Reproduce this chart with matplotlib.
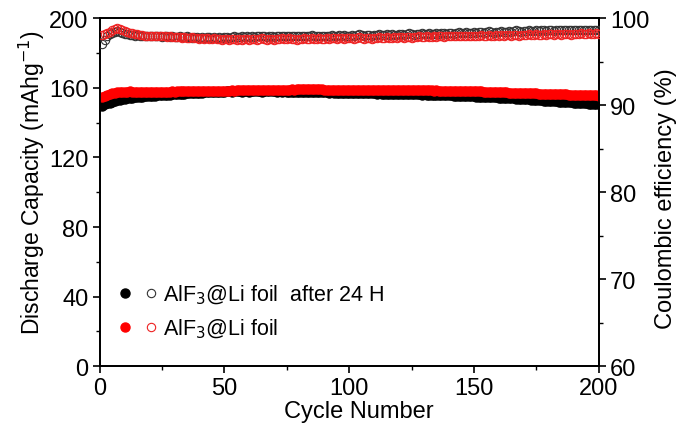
import numpy as np
import matplotlib.pyplot as plt
from matplotlib.legend_handler import HandlerTuple

plt.rcParams['font.family'] = ['Liberation Sans', 'DejaVu Sans']

cycles = np.arange(1, 201)

# discharge capacity (mAh/g), AlF3@Li foil after 24 H
cap_24h = [
    149.8, 150.5, 151.0, 151.4, 151.9, 152.3, 152.8, 153.2, 153.5, 153.8,
    154.0, 154.2, 154.3, 154.5, 154.6, 154.8, 154.9, 155.1, 155.2, 155.3,
    155.4, 155.5, 155.6, 155.7, 155.8, 155.9, 156.0, 156.1, 156.2, 156.3,
    156.4, 156.5, 156.6, 156.7, 156.8, 156.9, 157.0, 157.1, 157.1, 157.2,
    157.3, 157.4, 157.4, 157.5, 157.6, 157.6, 157.7, 157.7, 157.8, 157.8,
    157.9, 157.9, 157.8, 157.9, 158.0, 157.9, 157.8, 157.9, 157.9, 157.8,
    157.9, 158.0, 157.9, 157.9, 157.8, 157.9, 158.0, 158.0, 157.9, 157.9,
    157.8, 157.9, 157.8, 157.9, 157.8, 157.8, 157.7, 157.8, 157.7, 157.7,
    157.6, 157.7, 157.6, 157.6, 157.5, 157.6, 157.5, 157.5, 157.4, 157.5,
    157.4, 157.3, 157.4, 157.3, 157.3, 157.2, 157.2, 157.1, 157.2, 157.1,
    157.0, 157.1, 157.0, 156.9, 157.0, 156.9, 156.8, 156.9, 156.8, 156.8,
    156.7, 156.8, 156.7, 156.6, 156.7, 156.6, 156.5, 156.6, 156.5, 156.4,
    156.5, 156.4, 156.3, 156.4, 156.3, 156.2, 156.3, 156.2, 156.1, 156.2,
    156.1, 156.0, 156.0, 155.9, 155.9, 155.8, 155.8, 155.7, 155.7, 155.6,
    155.6, 155.5, 155.5, 155.4, 155.4, 155.3, 155.3, 155.2, 155.1, 155.1,
    155.0, 154.9, 154.9, 154.8, 154.7, 154.7, 154.6, 154.5, 154.5, 154.4,
    154.3, 154.2, 154.2, 154.1, 154.0, 153.9, 153.8, 153.7, 153.6, 153.5,
    153.4, 153.3, 153.2, 153.1, 153.0, 152.9, 152.8, 152.7, 152.6, 152.5,
    152.4, 152.3, 152.2, 152.1, 152.0, 151.9, 151.8, 151.7, 151.6, 151.5,
    151.4, 151.3, 151.2, 151.1, 151.0, 150.9, 150.8, 150.7, 150.6, 150.5,
]

# discharge capacity (mAh/g), fresh AlF3@Li foil
cap_fresh = [
    155.0, 155.4, 156.0, 156.5, 156.9, 157.2, 157.4, 157.6, 157.7, 157.8,
    157.8, 157.9, 157.8, 157.8, 157.7, 157.8, 157.7, 157.8, 157.7, 157.7,
    157.8, 157.7, 157.7, 157.8, 157.8, 157.7, 157.8, 157.8, 157.9, 157.8,
    157.9, 157.9, 158.0, 157.9, 158.0, 158.0, 158.1, 158.0, 158.1, 158.1,
    158.2, 158.1, 158.2, 158.2, 158.3, 158.2, 158.3, 158.3, 158.4, 158.3,
    158.4, 158.4, 158.5, 158.4, 158.5, 158.5, 158.6, 158.5, 158.6, 158.6,
    158.7, 158.6, 158.7, 158.7, 158.8, 158.7, 158.8, 158.8, 158.9, 158.8,
    158.9, 158.9, 159.0, 158.9, 159.0, 159.0, 159.1, 159.0, 159.1, 159.1,
    159.1, 159.2, 159.1, 159.2, 159.2, 159.1, 159.2, 159.1, 159.1, 159.0,
    159.0, 158.9, 159.0, 158.9, 158.9, 158.8, 158.9, 158.8, 158.8, 158.7,
    158.8, 158.7, 158.7, 158.8, 158.7, 158.7, 158.8, 158.7, 158.8, 158.7,
    158.8, 158.8, 158.9, 158.8, 158.8, 158.7, 158.8, 158.7, 158.7, 158.6,
    158.7, 158.6, 158.6, 158.7, 158.6, 158.6, 158.7, 158.6, 158.6, 158.5,
    158.6, 158.5, 158.5, 158.4, 158.5, 158.4, 158.4, 158.3, 158.4, 158.3,
    158.3, 158.2, 158.3, 158.2, 158.2, 158.1, 158.1, 158.0, 158.1, 158.0,
    158.0, 157.9, 157.9, 157.8, 157.8, 157.7, 157.7, 157.6, 157.6, 157.5,
    157.5, 157.4, 157.4, 157.3, 157.3, 157.2, 157.2, 157.1, 157.1, 157.0,
    157.0, 156.9, 156.9, 156.8, 156.8, 156.7, 156.7, 156.6, 156.6, 156.5,
    156.5, 156.4, 156.4, 156.3, 156.3, 156.2, 156.2, 156.1, 156.1, 156.0,
    156.0, 155.9, 155.9, 155.8, 155.8, 155.7, 155.7, 155.6, 155.6, 155.5,
]

# coulombic efficiency (%), after 24 H
ce_24h = [
    97.0, 97.5, 97.9, 98.2, 98.3, 98.4, 98.5, 98.4, 98.3, 98.2,
    98.2, 98.1, 98.1, 98.0, 98.1, 98.0, 98.0, 97.9, 98.0, 97.9,
    97.9, 98.0, 97.9, 97.9, 97.8, 97.9, 97.9, 97.8, 97.9, 97.8,
    97.8, 97.9, 97.8, 97.8, 97.9, 97.8, 97.7, 97.8, 97.8, 97.7,
    97.8, 97.7, 97.8, 97.8, 97.7, 97.8, 97.7, 97.8, 97.7, 97.8,
    97.8, 97.7, 97.8, 97.9, 97.8, 97.8, 97.9, 97.8, 97.9, 97.8,
    97.9, 97.8, 97.9, 97.9, 98.0, 97.9, 97.8, 97.9, 97.9, 97.8,
    97.9, 97.9, 98.0, 97.9, 97.9, 98.0, 97.9, 98.0, 97.9, 97.9,
    98.0, 97.9, 98.0, 98.0, 98.1, 98.0, 97.9, 98.0, 98.0, 97.9,
    98.0, 98.0, 98.1, 98.0, 98.0, 98.1, 98.0, 98.1, 98.0, 98.0,
    98.1, 98.0, 98.1, 98.2, 98.1, 98.0, 98.1, 98.1, 98.0, 98.1,
    98.1, 98.2, 98.1, 98.1, 98.2, 98.1, 98.2, 98.1, 98.1, 98.2,
    98.2, 98.1, 98.2, 98.3, 98.2, 98.1, 98.2, 98.2, 98.3, 98.2,
    98.2, 98.3, 98.2, 98.2, 98.3, 98.2, 98.3, 98.3, 98.2, 98.3,
    98.3, 98.2, 98.3, 98.4, 98.3, 98.3, 98.4, 98.3, 98.3, 98.4,
    98.3, 98.4, 98.4, 98.3, 98.4, 98.5, 98.4, 98.3, 98.4, 98.4,
    98.5, 98.4, 98.4, 98.5, 98.4, 98.5, 98.6, 98.5, 98.4, 98.5,
    98.5, 98.6, 98.5, 98.5, 98.6, 98.5, 98.6, 98.6, 98.5, 98.6,
    98.6, 98.5, 98.6, 98.6, 98.7, 98.6, 98.6, 98.7, 98.6, 98.6,
    98.7, 98.6, 98.7, 98.7, 98.6, 98.7, 98.7, 98.6, 98.7, 98.7,
]

# coulombic efficiency (%), fresh
ce_fresh = [
    98.1, 98.2, 98.3, 98.4, 98.6, 98.8, 98.9, 98.8, 98.6, 98.5,
    98.4, 98.3, 98.3, 98.2, 98.2, 98.1, 98.1, 98.0, 98.0, 98.0,
    98.0, 97.9, 98.0, 97.9, 97.9, 97.9, 97.8, 97.9, 97.8, 97.8,
    97.8, 97.8, 97.7, 97.8, 97.7, 97.7, 97.8, 97.7, 97.7, 97.6,
    97.7, 97.6, 97.7, 97.6, 97.6, 97.7, 97.6, 97.6, 97.5, 97.6,
    97.6, 97.5, 97.6, 97.6, 97.5, 97.6, 97.5, 97.6, 97.6, 97.5,
    97.6, 97.6, 97.5, 97.6, 97.7, 97.6, 97.5, 97.6, 97.6, 97.5,
    97.6, 97.6, 97.7, 97.6, 97.6, 97.7, 97.6, 97.6, 97.5, 97.6,
    97.6, 97.7, 97.6, 97.6, 97.7, 97.6, 97.6, 97.7, 97.6, 97.6,
    97.7, 97.6, 97.7, 97.7, 97.6, 97.7, 97.7, 97.6, 97.7, 97.7,
    97.7, 97.6, 97.7, 97.8, 97.7, 97.6, 97.7, 97.7, 97.6, 97.7,
    97.7, 97.8, 97.7, 97.7, 97.8, 97.7, 97.7, 97.8, 97.7, 97.8,
    97.8, 97.7, 97.8, 97.8, 97.7, 97.8, 97.8, 97.9, 97.8, 97.8,
    97.9, 97.8, 97.8, 97.9, 97.8, 97.9, 97.9, 97.8, 97.9, 97.9,
    97.9, 98.0, 97.9, 97.9, 98.0, 97.9, 98.0, 98.0, 97.9, 98.0,
    98.0, 98.0, 98.1, 98.0, 98.0, 98.1, 98.0, 98.0, 98.1, 98.0,
    98.1, 98.0, 98.1, 98.1, 98.0, 98.1, 98.1, 98.0, 98.1, 98.1,
    98.1, 98.2, 98.1, 98.1, 98.2, 98.1, 98.1, 98.2, 98.1, 98.2,
    98.2, 98.1, 98.2, 98.2, 98.1, 98.2, 98.2, 98.2, 98.1, 98.2,
    98.2, 98.2, 98.3, 98.2, 98.2, 98.3, 98.2, 98.2, 98.3, 98.2,
]

fig = plt.figure(figsize=(6.78, 4.27), dpi=100)
ax = fig.add_axes([0.147, 0.140, 0.736, 0.815])
ax2 = ax.twinx()

f1, = ax.plot(cycles, cap_24h, 'o', color='black', ms=6.5, mec='black', zorder=3)
f2, = ax.plot(cycles, cap_fresh, 'o', color='red', ms=6.5, mec='red', zorder=4)
o1, = ax2.plot(cycles, ce_24h, 'o', ms=6, mfc='none', mec='#333333', mew=0.8, zorder=3)
o2, = ax2.plot(cycles, ce_fresh, 'o', ms=6, mfc='none', mec='#ee2222', mew=0.8, zorder=4)

ax.set_xlim(0, 200)
ax.set_ylim(0, 200)
ax2.set_ylim(60, 100)
ax.set_xticks([0, 50, 100, 150, 200])
ax.set_xticks([25, 75, 125, 175], minor=True)
ax.set_yticks([0, 40, 80, 120, 160, 200])
ax.set_yticks([20, 60, 100, 140, 180], minor=True)
ax2.set_yticks([60, 70, 80, 90, 100])
ax2.set_yticks([65, 75, 85, 95], minor=True)

for a in (ax, ax2):
    for s in a.spines.values():
        s.set_linewidth(1.3)
ax.tick_params(which='major', direction='out', length=5, width=1.2, labelsize=17, top=False, pad=3)
ax.tick_params(which='minor', direction='out', length=3, width=1.0, top=False)
ax2.tick_params(which='major', direction='out', length=5, width=1.2, labelsize=17, pad=3)
ax2.tick_params(which='minor', direction='out', length=3, width=1.0)

ax.set_xlabel('Cycle Number', fontsize=17)
ax.set_ylabel('Discharge Capacity (mAhg$^{-1}$)', fontsize=16.5)
ax2.set_ylabel('Coulombic efficiency (%)', fontsize=17)
ax.xaxis.set_label_coords(0.52, -0.097)
ax.yaxis.set_label_coords(-0.106, 0.53)
ax2.yaxis.set_label_coords(1.112, 0.485)

ax2.legend([(f1, o1), (f2, o2)],
           ['AlF$_3$@Li foil  after 24 H', 'AlF$_3$@Li foil'],
           handler_map={tuple: HandlerTuple(ndivide=None, pad=0.6)},
           loc='lower left', bbox_to_anchor=(0.0, 0.02), frameon=False,
           fontsize=15.5, handlelength=1.8, handletextpad=0.25, labelspacing=0.5)

fig.savefig('out.png', dpi=100)
